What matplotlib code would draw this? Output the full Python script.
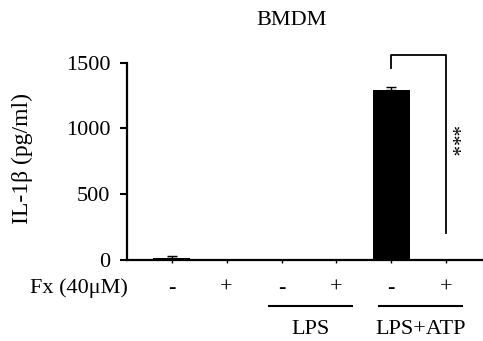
import matplotlib
matplotlib.use("Agg")
import matplotlib.pyplot as plt
import numpy as np

plt.rcParams['font.family'] = ['Liberation Serif', 'DejaVu Serif']

# Data
fx_labels = ['-', '+', '-', '+', '-', '+']
values = [13, 0, 0, 0, 1290, 0]
errors = [15, 0, 0, 0, 25, 0]
groups = [('LPS', 2, 3), ('LPS+ATP', 4, 5)]
yticks = [0, 500, 1000, 1500]
title = 'BMDM'
ylabel = 'IL-1β (pg/ml)'
row_label = 'Fx (40μM)'
sig = '***'

W, H = 483, 341
fig = plt.figure(figsize=(W / 100, H / 100), dpi=100)
ax_left, ax_right, ax_bottom, ax_top = 127, 483, 260, 62.7
ax = fig.add_axes([ax_left / W, (H - ax_bottom) / H, (ax_right - ax_left) / W, (ax_bottom - ax_top) / H])

x = np.arange(len(values))
ax.bar(x, values, width=0.674, color='black', zorder=2)
for xi, v, e in zip(x, values, errors):
    if e > 0:
        ax.errorbar(xi, v, yerr=[[0], [e]], fmt='none', ecolor='black', elinewidth=1, capsize=3.5, capthick=1, zorder=3)

ax.set_xlim(-0.814, 5.67)
ax.set_ylim(0, 1500)
ax.set_yticks(yticks)
ax.set_yticklabels([str(t) for t in yticks], fontsize=16)
ax.set_xticks(x)
ax.set_xticklabels([])
ax.tick_params(axis='y', direction='out', length=5, width=1.5, pad=7)
ax.tick_params(axis='x', direction='out', length=2.5, width=1)
for s in ['top', 'right']:
    ax.spines[s].set_visible(False)
for s in ['left', 'bottom']:
    ax.spines[s].set_linewidth(1.6)

trans = ax.get_xaxis_transform()
row_y = (260 - 293) / 197.3
for xi, lab in zip(x, fx_labels):
    ax.text(xi, row_y, lab, transform=trans, ha='center', va='baseline', fontsize=16)
ax.text(-0.796, row_y, row_label, transform=trans, ha='right', va='baseline', fontsize=16)

line_y = (260 - 306) / 197.3
grp_y = (260 - 334) / 197.3
for name, a, b in groups:
    x0, x1 = a - 0.23, b + 0.28
    ax.plot([x0, x1], [line_y, line_y], transform=trans, color='black', lw=1.5, clip_on=False)
    ax.text((x0 + x1) / 2, grp_y, name, transform=trans, ha='center', va='baseline', fontsize=16)

# significance bracket
ax.plot([4, 4, 4.99, 4.99], [1460, 1561, 1561, 208], color='black', lw=1.3, clip_on=False)
ax.text(5.06, 899, sig, rotation=270, ha='center', va='center', fontsize=15)

fig.text(291.5 / W, 1 - 25 / H, title, ha='center', va='baseline', fontsize=16)
fig.text(22 / W, 1 - 158 / H, ylabel, rotation=90, ha='center', va='center', fontsize=17)

fig.savefig('out.png', dpi=100)
